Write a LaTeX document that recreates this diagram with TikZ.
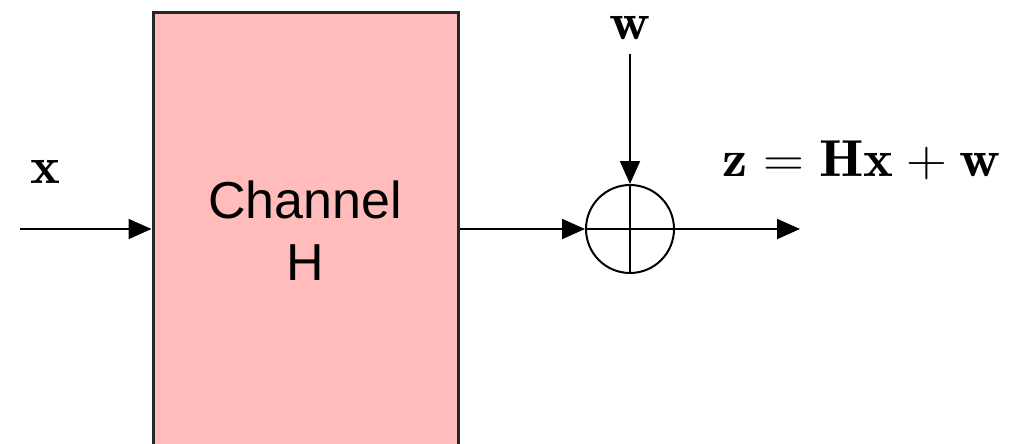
\RequirePackage{fix-cm}
\documentclass[tikz,border=0pt]{standalone}
\usepackage{amsmath}
\usepackage{graphicx}
\usepackage{fontspec}
\newfontfamily\helv{Liberation Sans}
\usetikzlibrary{arrows.meta,calc}
\definecolor{boxpink}{HTML}{FFBCBB}
\newcommand{\wideit}[1]{\scalebox{1.09}[1]{#1}}
\tikzset{
  conn/.style={line width=2pt,-{Triangle[length=23pt,width=20pt]}},
  chanbox/.style={draw=black!85,line width=3pt,fill=boxpink,minimum width=305pt,minimum height=470pt,inner sep=0pt},
  sumnode/.style={circle,draw,line width=2pt,minimum size=88pt,inner sep=0pt},
  lbl/.style={inner sep=0pt,font=\fontsize{52}{62}\selectfont}
}
\begin{document}
\begin{tikzpicture}[x=1pt,y=-1pt]
\useasboundingbox (0,0) rectangle (1012,444);
\node[chanbox] (box) at (305.5,248) {};
\node[lbl,font=\fontsize{52}{62}\selectfont\helv,align=center] (ctext) at (305,231) {Channel\\H};
\node[sumnode] (sum) at (630,229) {};
\draw[line width=2pt] (sum.north) -- (sum.south) (sum.west) -- (sum.east);
\coordinate (in) at (20,229);
\coordinate (wtop) at (630,54);
\coordinate (out) at (800,229);
\node[lbl] (xl) at (45.5,172) {\wideit{$\mathbf{x}$}};
\node[lbl] (wl) at (630,28.5) {\wideit{$\mathbf{w}$}};
\node[lbl,anchor=base west] (zl) at (722,176) {\wideit{$\mathbf{z}\hspace{14.4pt}{=}\hspace{14.4pt}\mathbf{Hx}\hspace{11.5pt}{+}\hspace{11.5pt}\mathbf{w}$}};
\draw[conn] (in) -- (in -| box.west);
\draw[conn] (box.east |- sum.west) -- (sum.west);
\draw[conn] (wtop) -- (sum.north);
\draw[conn] (sum.east) -- (out);
\end{tikzpicture}
\end{document}
